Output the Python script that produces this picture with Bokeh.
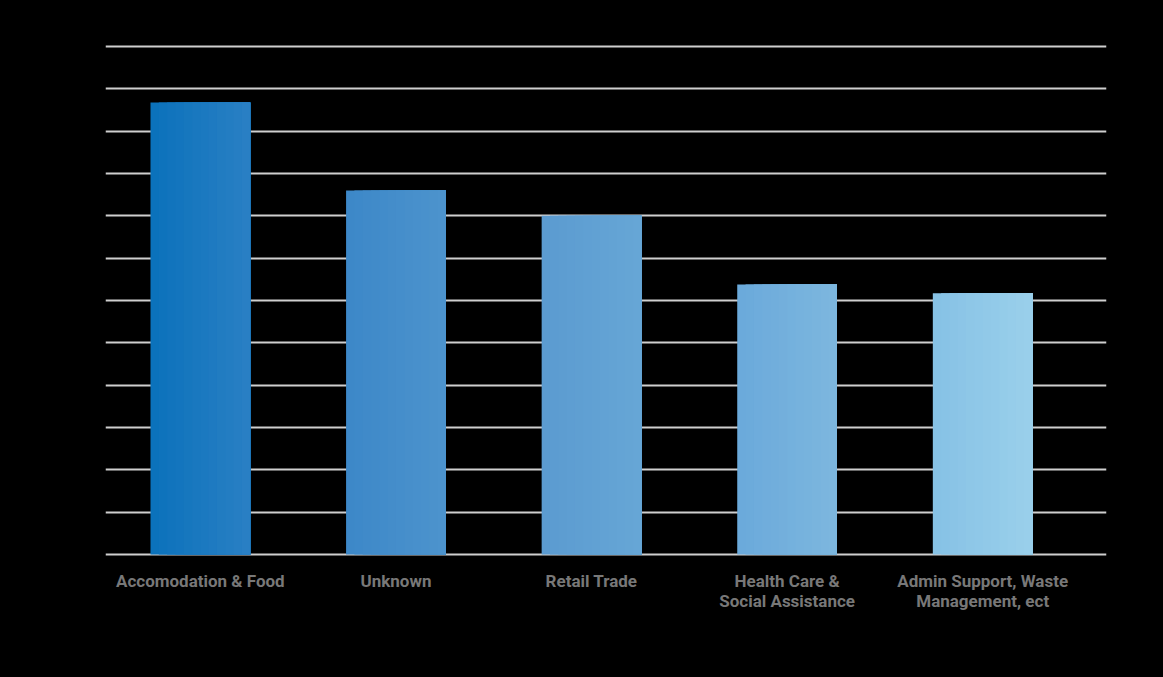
from bokeh.plotting import figure
from bokeh.models import Range1d, FixedTicker, ColumnDataSource
from bokeh.embed import file_html
from bokeh.resources import INLINE

categories = ["Accomodation & Food", "Unknown", "Retail Trade",
              "Health Care &\nSocial Assistance", "Admin Support, Waste\nManagement, ect"]
values = [10.68, 8.6, 8.0, 6.38, 6.17]
grid_ticks = list(range(0, 13))

# gradient colours (left edge, right edge) per bar
left_colors = ["#0a71bb", "#3c88c8", "#5a9bd0", "#6aa9db", "#86c1e5"]
right_colors = ["#2a80c4", "#4d93cd", "#67a6d6", "#7db7de", "#9ad0eb"]

def hex2rgb(h):
    h = h.lstrip("#")
    return [int(h[i:i + 2], 16) for i in (0, 2, 4)]

def lerp(c1, c2, t):
    a, b = hex2rgb(c1), hex2rgb(c2)
    return "#%02x%02x%02x" % tuple(round(a[j] + (b[j] - a[j]) * t) for j in range(3))

bar_w = 0.51
n_slices = 12
L, R, T, B, C = [], [], [], [], []
for i, v in enumerate(values):
    for k in range(n_slices):
        x0 = i - bar_w / 2 + k * bar_w / n_slices
        L.append(x0)
        R.append(i + bar_w / 2)   # each slice runs to the bar's right edge -> no seams
        T.append(v)
        B.append(0)
        C.append(lerp(left_colors[i], right_colors[i], (k + 0.5) / n_slices))

src = ColumnDataSource(dict(left=L, right=R, top=T, bottom=B, color=C))

p = figure(width=1163, height=677, output_backend="svg", toolbar_location=None,
           x_range=Range1d(-0.485, 4.633), y_range=Range1d(-0.05, 12.05),
           min_border_left=105, min_border_right=57, min_border_top=44, min_border_bottom=121)
p.background_fill_color = "#000000"
p.border_fill_color = "#000000"
p.outline_line_color = None

p.quad(left="left", right="right", top="top", bottom="bottom", color="color",
       line_color=None, source=src)

p.yaxis.visible = False
p.ygrid.ticker = FixedTicker(ticks=grid_ticks)
p.ygrid.grid_line_color = "#cfcfcf"
p.ygrid.grid_line_width = 2
p.xgrid.visible = False

ax = p.xaxis[0]
ax.ticker = FixedTicker(ticks=list(range(len(categories))))
ax.major_label_overrides = {i: c for i, c in enumerate(categories)}
ax.axis_line_color = None
ax.major_tick_line_color = None
ax.minor_tick_line_color = None
ax.major_label_text_font = "Roboto"
ax.major_label_text_font_style = "bold"
ax.major_label_text_font_size = "17px"
ax.major_label_text_line_height = 1.0
ax.major_label_text_color = "#787878"
ax.major_label_standoff = 8

html = file_html(p, INLINE)
html = html.replace("<body>", '<body style="background:#000000">', 1)
html = html.replace("<head>", '<head><style>html{background:#000000}</style>', 1)
open("out.html", "w").write(html)
